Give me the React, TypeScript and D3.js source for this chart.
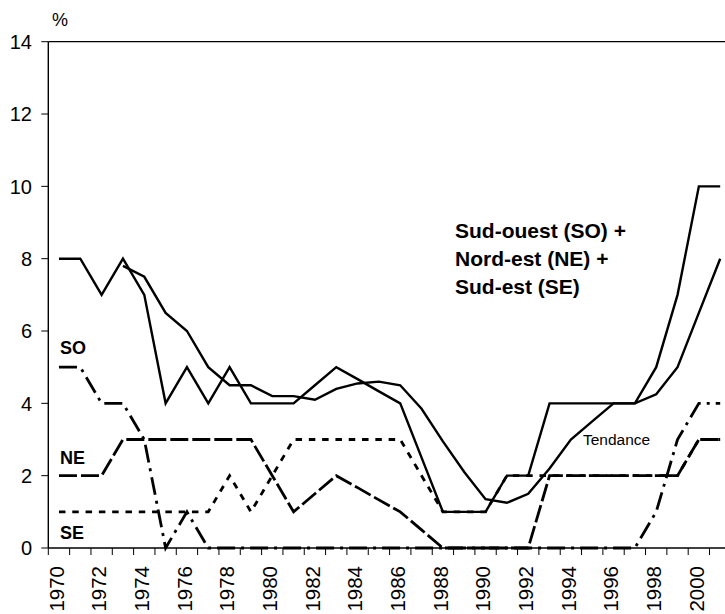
import React, { useEffect, useRef } from 'react';
import * as d3 from 'd3';

// Data (1970-2001)
const years = d3.range(1970, 2002);
const total = [8, 8, 7, 8, 7, 4, 5, 4, 5, 4, 4, 4, 4.5, 5, 4.67, 4.33, 4, 2.5, 1, 1, 1, 2, 2, 4, 4, 4, 4, 4, 5, 7, 10, 10];
const trend = [null, null, null, 7.8, 7.5, 6.5, 6, 5, 4.5, 4.5, 4.2, 4.2, 4.1, 4.4, 4.55, 4.6, 4.5, 3.85, 2.95, 2.1, 1.35, 1.25, 1.5, 2.2, 3, 3.5, 4, 4, 4.25, 5, 6.5, 8];
const so = [5, 5, 4, 4, 3, 0, 1, 0, 0, 0, 0, 0, 0, 0, 0, 0, 0, 0, 0, 0, 0, 0, 0, 0, 0, 0, 0, 0, 1, 3, 4, 4];
const ne = [2, 2, 2, 3, 3, 3, 3, 3, 3, 3, 2, 1, 1.5, 2, 1.67, 1.33, 1, 0.5, 0, 0, 0, 0, 0, 2, 2, 2, 2, 2, 2, 2, 3, 3];
const se = [1, 1, 1, 1, 1, 1, 1, 1, 2, 1, 2, 3, 3, 3, 3, 3, 3, 2, 1, 1, 1, 2, 2, 2, 2, 2, 2, 2, 2, 2, 3, 3];
const yTicks = [0, 2, 4, 6, 8, 10, 12, 14];

const W = 725, H = 614;
const left = 48.3, top = 41.7, bottom = 548;
const band = 21.33;

export default function App() {
  const ref = useRef<SVGSVGElement>(null);

  useEffect(() => {
    const svg = d3.select(ref.current);
    svg.selectAll('*').remove();

    const x = d3.scaleBand<number>()
      .domain(years)
      .range([left, left + band * years.length])
      .paddingInner(0).paddingOuter(0);
    const y = d3.scaleLinear().domain([0, 14]).range([bottom, top]);
    const cx = (yr: number) => (x(yr) as number) + x.bandwidth() / 2;

    const font = 'Arial, "Liberation Sans", sans-serif';

    // frame: top border + axes
    svg.append('line')
      .attr('x1', left).attr('x2', W).attr('y1', top).attr('y2', top)
      .attr('stroke', '#000').attr('stroke-width', 1.2);
    svg.append('line')
      .attr('x1', left).attr('x2', left).attr('y1', top).attr('y2', bottom)
      .attr('stroke', '#000').attr('stroke-width', 1.4);

    // y ticks
    const yg = svg.append('g');
    yTicks.forEach(t => {
      yg.append('line')
        .attr('x1', left - 7).attr('x2', left).attr('y1', y(t)).attr('y2', y(t))
        .attr('stroke', '#000').attr('stroke-width', 1);
      yg.append('text')
        .attr('x', 32).attr('y', y(t)).attr('dy', '0.36em')
        .attr('text-anchor', 'end')
        .attr('font-family', font).attr('font-size', 20)
        .text(t);
    });

    // x ticks and labels
    const xg = svg.append('g');
    years.concat([2002]).forEach((yr, i) => {
      const px = left + i * band;
      xg.append('line')
        .attr('x1', px).attr('x2', px).attr('y1', bottom).attr('y2', bottom + 7)
        .attr('stroke', '#000').attr('stroke-width', 1);
    });
    years.filter(yr => yr % 2 === 0).forEach(yr => {
      xg.append('text')
        .attr('transform', `translate(${cx(yr) + 4.8},566) rotate(-90)`)
        .attr('text-anchor', 'end')
        .attr('font-family', font).attr('font-size', 20.5)
        .text(yr);
    });

    const lineGen = d3.line<number | null>()
      .defined(d => d !== null)
      .x((d, i) => cx(years[i]))
      .y(d => y(d as number));

    const series: { data: (number | null)[]; dash: string | null; w: number }[] = [
      { data: se, dash: '6.5,6.8', w: 2.8 },
      { data: ne, dash: '18,4', w: 2.8 },
      { data: so, dash: '18,6,3,6', w: 2.8 },
      { data: trend, dash: null, w: 2.4 },
      { data: total, dash: null, w: 2.4 },
    ];
    series.forEach(s => {
      svg.append('path')
        .datum(s.data)
        .attr('d', lineGen)
        .attr('fill', 'none')
        .attr('stroke', '#000')
        .attr('stroke-width', s.w)
        .attr('stroke-linejoin', 'miter')
        .attr('stroke-dasharray', s.dash);
    });

    // x axis line
    svg.append('line')
      .attr('x1', left).attr('x2', W).attr('y1', bottom).attr('y2', bottom)
      .attr('stroke', '#000').attr('stroke-width', 1.4);

    // annotations
    svg.append('text').attr('x', 52).attr('y', 25.5)
      .attr('font-family', font).attr('font-size', 18).text('%');

    const lab = (t: string, px: number, py: number) =>
      svg.append('text').attr('x', px).attr('y', py)
        .attr('font-family', font).attr('font-size', 18).attr('font-weight', 'bold').text(t);
    lab('SO', 60, 353.5);
    lab('NE', 60, 463.5);
    lab('SE', 60, 538.5);

    const block = ['Sud-ouest (SO) +', 'Nord-est (NE) +', 'Sud-est (SE)'];
    block.forEach((t, i) => {
      svg.append('text').attr('x', 455).attr('y', 237.5 + i * 28)
        .attr('font-family', font).attr('font-size', 21).attr('font-weight', 'bold').text(t);
    });

    svg.append('text').attr('x', 583).attr('y', 444.5)
      .attr('font-family', font).attr('font-size', 15.5).text('Tendance');
  }, []);

  return (
    <div style={{ position: 'absolute', left: 0, top: 0 }}>
      <svg ref={ref} width={W} height={H} style={{ display: 'block', background: '#fff' }} />
    </div>
  );
}
